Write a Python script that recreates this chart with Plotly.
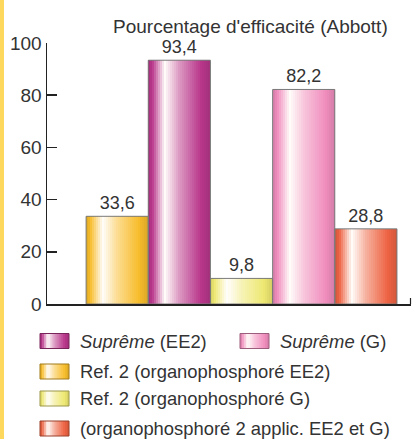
import plotly.graph_objects as go

# ---------------- data ----------------
categories = [
    "Ref. 2 (organophosphoré EE2)",
    "Suprême (EE2)",
    "Ref. 2 (organophosphoré G)",
    "Suprême (G)",
    "(organophosphoré 2 applic. EE2 et G)",
]
values = [33.6, 93.4, 9.8, 82.2, 28.8]
y_ticks = [0, 20, 40, 60, 80, 100]
title_text = "Pourcentage d'efficacité (Abbott)"
legend_labels = [
    "<i>Suprême</i> (EE2)",
    "<i>Suprême</i> (G)",
    "Ref. 2 (organophosphoré EE2)",
    "Ref. 2 (organophosphoré G)",
    "(organophosphoré 2 applic. EE2 et G)",
]
legend_index = [1, 3, 0, 2, 4]  # which bar each legend entry refers to

# ---------------- styles ----------------
base_colors = ["#f8bd2c", "#b9378c", "#eee872", "#f08dbd", "#ed6343"]
FONT = "Liberation Sans, Arial, sans-serif"
TXT = "#333333"
W, H = 412, 439
L, R, T, B = 47, 1, 43, 135
PW, PH = W - L - R, H - T - B


def h2r(h):
    h = h.lstrip("#")
    return [int(h[i:i + 2], 16) for i in (0, 2, 4)]


def mix(c1, c2, a):
    return [c1[i] * (1 - a) + c2[i] * a for i in range(3)]


def rgb(c):
    return "rgb(%d,%d,%d)" % tuple(int(round(v)) for v in c)


WHITE = [255, 253, 250]
BLACK = [0, 0, 0]


def grad(base_hex, t):
    b = h2r(base_hex)
    edge = mix(b, BLACK, 0.12)
    stops = [(0.0, edge), (0.07, b), (0.27, WHITE), (0.5, mix(b, WHITE, 0.5)),
             (0.85, b), (1.0, edge)]
    for (t0, c0), (t1, c1) in zip(stops[:-1], stops[1:]):
        if t0 <= t <= t1:
            return rgb(mix(c0, c1, (t - t0) / (t1 - t0)))
    return rgb(b)


def px2x(px):
    return (px - L) / PW


def px2y(py):
    return (H - B - py) / PH


fig = go.Figure()

# bars drawn as thin gradient slices
N = 31
for j in range(N):
    t = (j + 0.5) / N
    w = 1.0 / N
    width = min(w * 1.4, 1.0 - j * w)
    fig.add_trace(go.Bar(
        x=categories, y=values,
        offset=-0.5 + j * w, width=width,
        marker=dict(color=[grad(c, t) for c in base_colors], line=dict(width=0)),
        showlegend=False, hoverinfo="skip",
    ))

# outline + value labels
fig.add_trace(go.Bar(
    x=categories, y=values, width=1.0, offset=-0.5,
    marker=dict(color="rgba(0,0,0,0)", line=dict(color="#7a7a7a", width=1)),
    texttemplate="%{y:.1f}", textposition="outside", cliponaxis=False,
    textfont=dict(family=FONT, size=18, color=TXT),
    showlegend=False, hoverinfo="skip",
))

shapes = []
# yellow strip on the left edge
shapes.append(dict(type="rect", xref="paper", yref="paper",
                   x0=px2x(0), x1=px2x(4), y0=px2y(H), y1=px2y(0),
                   fillcolor="#fdd85d", line=dict(width=0), layer="below"))
# small tick at the right end of the x axis
shapes.append(dict(type="line", xref="paper", yref="paper",
                   x0=px2x(410.5), x1=px2x(410.5), y0=px2y(304), y1=px2y(298),
                   line=dict(color="#222", width=1.2)))

annotations = [dict(text=title_text, xref="paper", yref="paper",
                    x=px2x(250), y=px2y(27), xanchor="center", yanchor="middle",
                    showarrow=False, font=dict(family=FONT, size=19, color=TXT))]

# custom legend
legend_pos = [(40, 341), (240, 341), (40, 371.5), (40, 398.5), (40, 428.5)]
NS = 14
for k, (lab, idx) in enumerate(zip(legend_labels, legend_index)):
    sx, sy = legend_pos[k]
    sw, sh = 29, 15
    base = base_colors[idx]
    for j in range(NS):
        t = (j + 0.5) / NS
        x0 = sx + j * sw / NS
        x1 = min(sx + (j + 1.4) * sw / NS, sx + sw)
        shapes.append(dict(type="rect", xref="paper", yref="paper",
                           x0=px2x(x0), x1=px2x(x1),
                           y0=px2y(sy + sh / 2), y1=px2y(sy - sh / 2),
                           fillcolor=grad(base, t), line=dict(width=0)))
    shapes.append(dict(type="rect", xref="paper", yref="paper",
                       x0=px2x(sx), x1=px2x(sx + sw),
                       y0=px2y(sy + sh / 2), y1=px2y(sy - sh / 2),
                       fillcolor="rgba(0,0,0,0)",
                       line=dict(color=rgb(mix(h2r(base), BLACK, 0.35)), width=1)))
    annotations.append(dict(text=lab, xref="paper", yref="paper",
                            x=px2x(sx + sw + 9), y=px2y(sy),
                            xanchor="left", yanchor="middle", showarrow=False,
                            font=dict(family=FONT, size=18.4, color=TXT)))

fig.update_layout(
    width=W, height=H,
    margin=dict(l=L, r=R, t=T, b=B, pad=0),
    paper_bgcolor="white", plot_bgcolor="white",
    barmode="overlay", bargap=0,
    separators=", ",
    font=dict(family=FONT, size=18, color=TXT),
    shapes=shapes, annotations=annotations,
    showlegend=False,
    xaxis=dict(range=[-1.129, 4.726], showticklabels=False, ticks="",
               showgrid=False, zeroline=False, showline=True,
               linecolor="#222", linewidth=1.5, fixedrange=True),
    yaxis=dict(range=[0, 100], tickvals=y_ticks, ticks="inside", ticklen=10,
               tickwidth=1.5, tickcolor="#222", showgrid=False, zeroline=False,
               showline=True, linecolor="#222", linewidth=1.5,
               tickfont=dict(family=FONT, size=19, color=TXT), fixedrange=True),
)

fig.write_html("out.html",
               config={"displayModeBar": False, "staticPlot": True},
               post_script="document.body.style.margin='0';document.body.style.padding='0';")
